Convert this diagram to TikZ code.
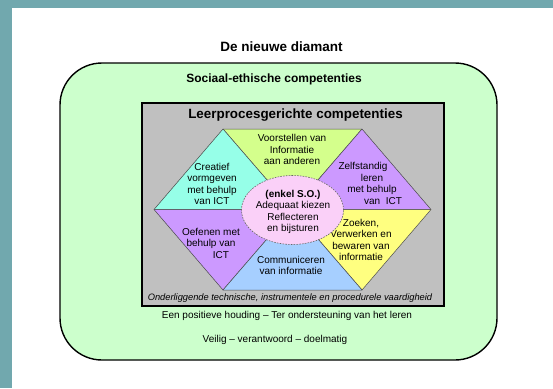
\documentclass[tikz,border=0pt]{standalone}
\usepackage{fontspec}
\setmainfont{Liberation Sans}
\usetikzlibrary{shapes.geometric}
\definecolor{teal}{RGB}{113,168,174}
\definecolor{paleg}{RGB}{204,255,204}
\definecolor{grayb}{RGB}{192,192,192}
\definecolor{lime}{RGB}{212,255,140}
\definecolor{aqua}{RGB}{150,255,232}
\definecolor{violet}{RGB}{204,153,255}
\definecolor{yel}{RGB}{255,255,128}
\definecolor{lblue}{RGB}{166,207,255}
\definecolor{pinkc}{RGB}{250,208,248}
\tikzset{
  tri/.style={draw=black!70, line width=0.5pt, line join=round},
  lbl/.style={align=center, font=\fontsize{10}{11.5}\selectfont, inner sep=0pt},
  head/.style={font=\bfseries\fontsize{#1}{#1}\selectfont, inner sep=0pt},
  frame/.style={draw=black, line width=1.4pt}
}
\begin{document}
\begin{tikzpicture}[x=1pt,y=-1pt]
\useasboundingbox (0,0) rectangle (553,388);
\fill[teal] (0,0) rectangle (553,388);
\fill[white] (12,8) rectangle (553,388);
\node[head=13.5] (title) at (281.5,47) {De nieuwe diamant};
\draw[frame, fill=paleg, rounded corners=42pt] (60,63) rectangle (497,360);
\node[head=12] (soc) at (274,79) {Sociaal-ethische competenties};
\draw[frame, fill=grayb, line width=1.2pt] (142,103) rectangle (444,306);
\node[head=13.4] (leer) at (295.5,115) {Leerprocesgerichte competenties};
\coordinate (T1) at (223,129);
\coordinate (T2) at (362,129);
\coordinate (R) at (431,209.5);
\coordinate (B2) at (362,290);
\coordinate (B1) at (223,290);
\coordinate (L) at (154,209.5);
\coordinate (C) at (292.5,209.5);
\filldraw[tri, fill=lime] (T1) -- (T2) -- (C) -- cycle;
\filldraw[tri, fill=aqua] (L) -- (T1) -- (C) -- cycle;
\filldraw[tri, fill=violet] (T2) -- (R) -- (C) -- cycle;
\filldraw[tri, fill=violet] (L) -- (B1) -- (C) -- cycle;
\filldraw[tri, fill=yel] (R) -- (B2) -- (C) -- cycle;
\filldraw[tri, fill=lblue] (B1) -- (B2) -- (C) -- cycle;
\node[lbl] (voor) at (292,149.5) {Voorstellen van\\Informatie\\aan anderen};
\node[lbl] (crea) at (212,184) {Creatief\\vormgeven\\met behulp\\van ICT};
\node[lbl] (zelf) at (372,183.5) {Zelfstandig\hspace*{18pt}\\leren\hspace*{16pt}\\met behulp\hspace*{12pt}\\\hspace*{22pt}van\ \ ICT};
\node[lbl] (oef) at (211,243) {Oefenen met\\behulp van\\\hspace*{20pt}ICT};
\node[lbl] (zoek) at (361,240) {Zoeken,\\Verwerken en\\bewaren van\\informatie};
\node[lbl] (comm) at (291,265.5) {Communiceren\\van informatie};
\node[ellipse, draw=black!60, fill=pinkc, dash pattern=on 1.6pt off 1.2pt, line width=0.6pt,
  minimum width=102pt, minimum height=69pt, inner sep=0pt] (ell) at (292.5,210) {};
\node[lbl] (mid) at (293,212) {\textbf{(enkel S.O.)}\\Adequaat kiezen\\Reflecteren\\en bijsturen};
\node[lbl, font=\itshape\fontsize{9.3}{10}\selectfont] (onder) at (290,298) {Onderliggende technische, instrumentele en procedurele vaardigheid};
\node[lbl] (een) at (287,316) {Een positieve houding – Ter ondersteuning van het leren};
\node[lbl] (veil) at (275,340) {Veilig – verantwoord – doelmatig};
\end{tikzpicture}
\end{document}
